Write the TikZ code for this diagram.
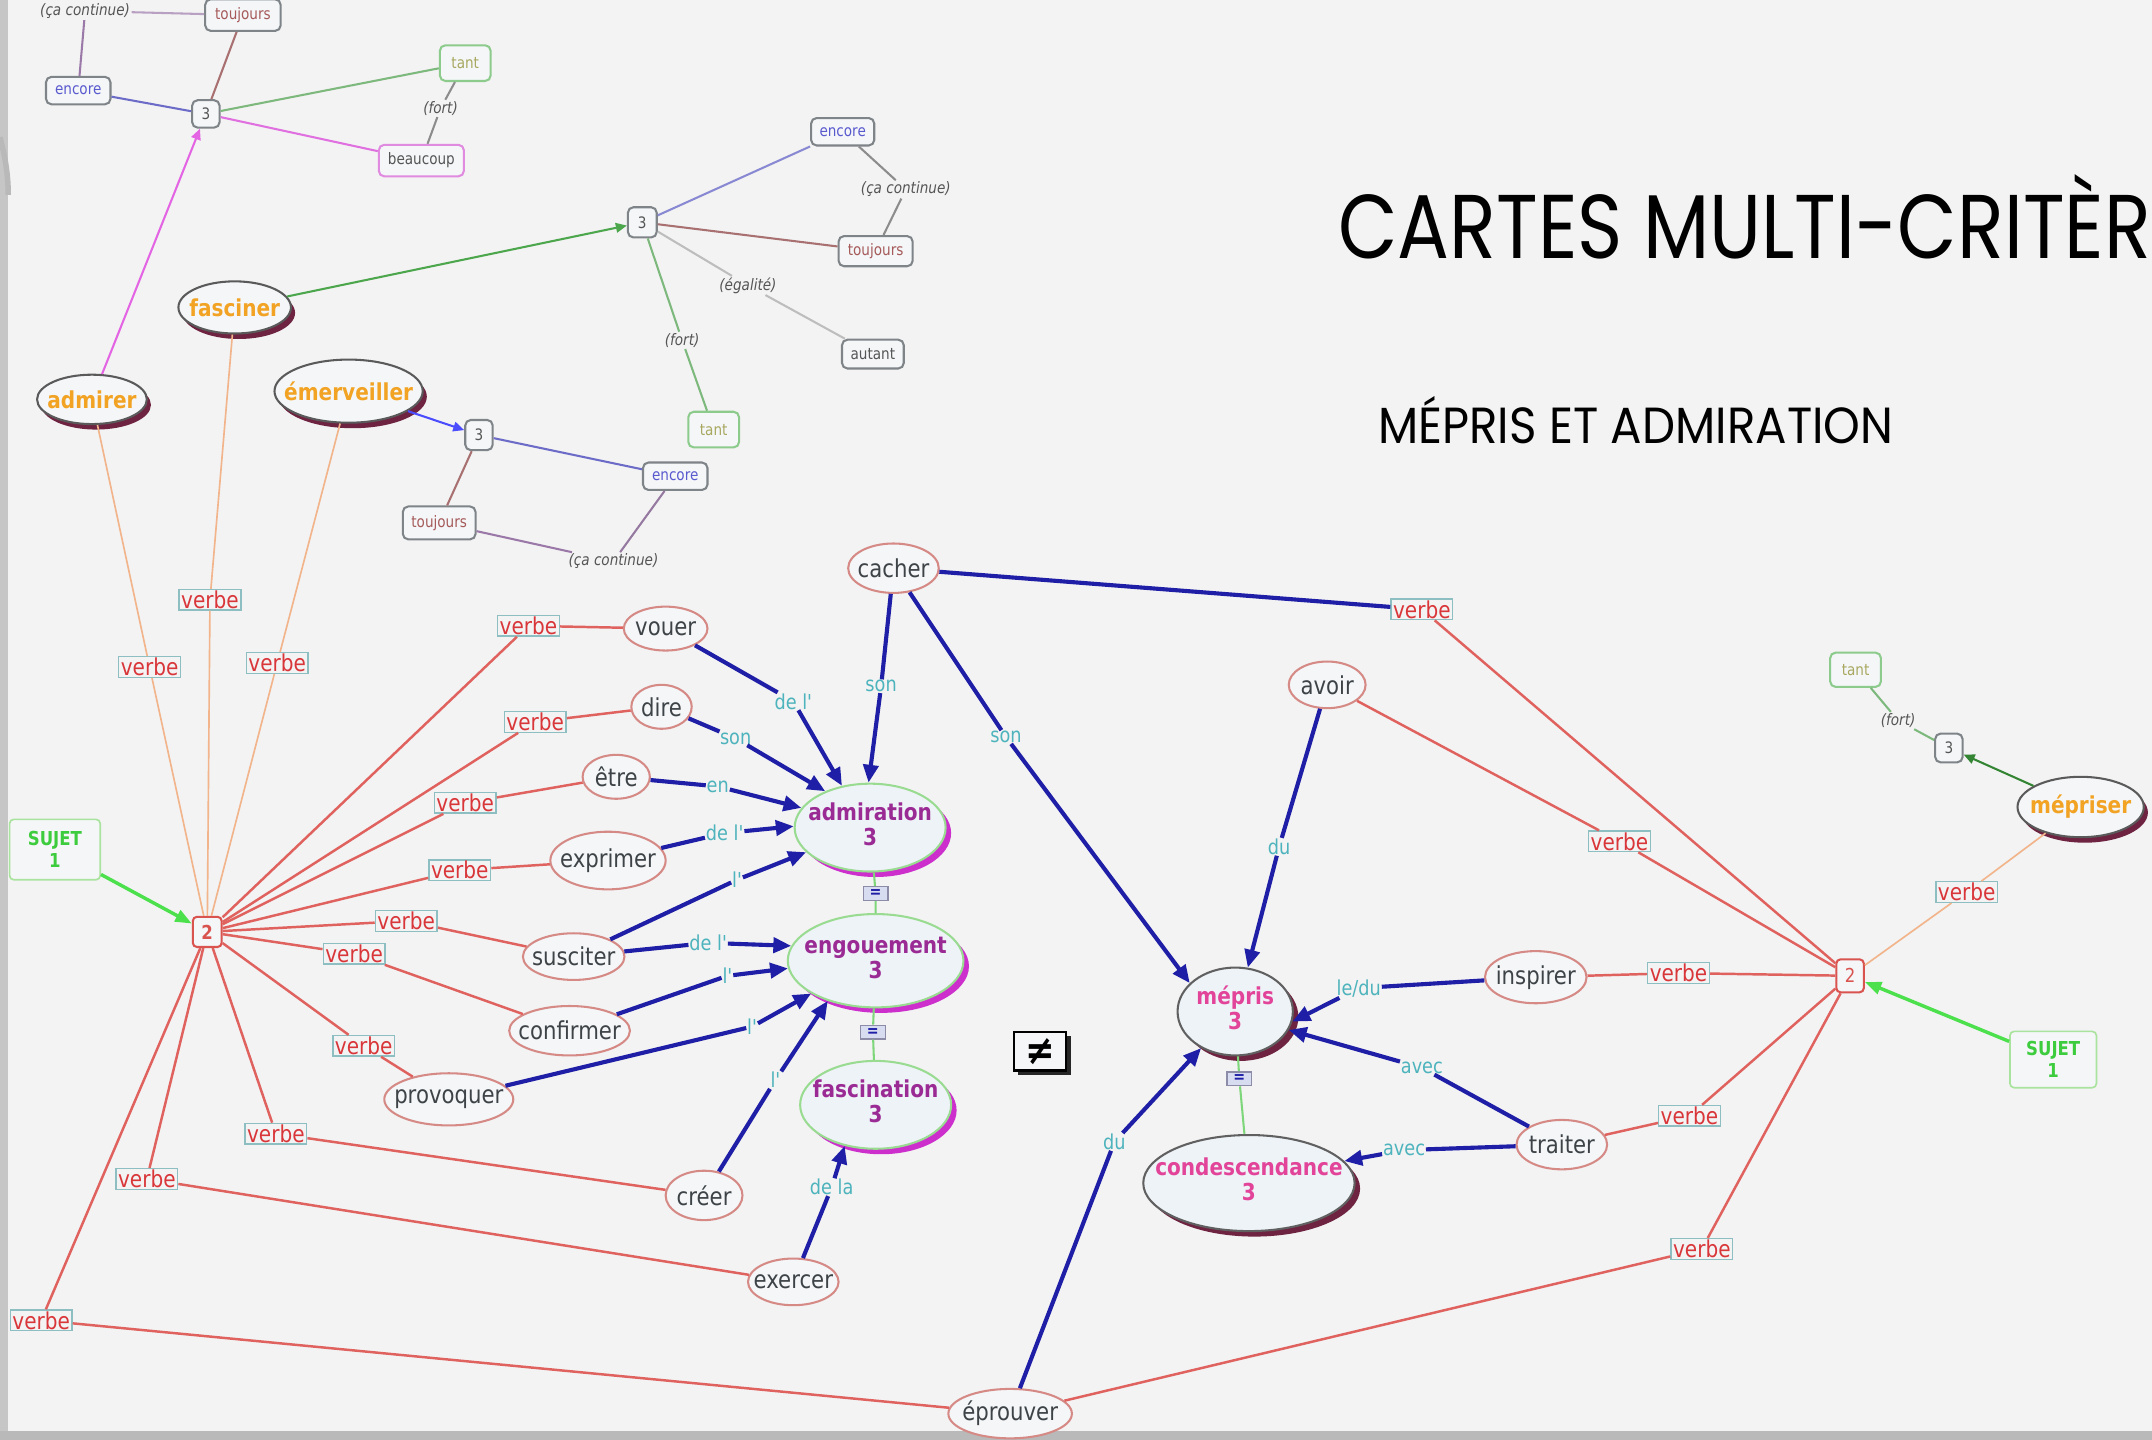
\documentclass[tikz,border=0pt]{standalone}
\usepackage{fontspec}
\usetikzlibrary{arrows.meta, positioning, shapes.geometric, shadows}

\newfontfamily\mapfont[FakeStretch=0.86]{DejaVu Sans}
\newfontfamily\titlefont[FakeStretch=0.85]{Poppins}
\newfontfamily\subtitlefont[FakeStretch=0.92]{Poppins}

\definecolor{bgcol}{HTML}{F3F3F3}
\definecolor{nodefill}{HTML}{F4F6F8}
\definecolor{cptfill}{HTML}{EEF3F7}
\definecolor{navy}{HTML}{1E1EA6}
\definecolor{linkteal}{HTML}{4DB3BC}
\definecolor{redl}{HTML}{E0625F}
\definecolor{vlabtext}{HTML}{D9363A}
\definecolor{vlabline}{HTML}{8DBFC2}
\definecolor{vrbline}{HTML}{D68A86}
\definecolor{vrbtext}{HTML}{3E4347}
\definecolor{oral}{HTML}{F2B48A}
\definecolor{oratext}{HTML}{F2A324}
\definecolor{oraborder}{HTML}{5A5A5A}
\definecolor{maroon}{HTML}{6E2340}
\definecolor{cptline}{HTML}{9ADB92}
\definecolor{magshadow}{HTML}{CC2FCC}
\definecolor{cpttext}{HTML}{9A2A94}
\definecolor{pinktext}{HTML}{E2449A}
\definecolor{hubred}{HTML}{D9534F}
\definecolor{sujline}{HTML}{A9E39E}
\definecolor{sujtext}{HTML}{3DCC3D}
\definecolor{sujarr}{HTML}{4CE04C}
\definecolor{smallline}{HTML}{7E8488}
\definecolor{enctext}{HTML}{5A5ACF}
\definecolor{toutext}{HTML}{A65A5A}
\definecolor{tanttext}{HTML}{A8A860}
\definecolor{tantline}{HTML}{8CCB8C}
\definecolor{beauline}{HTML}{E08AE0}
\definecolor{notetext}{HTML}{555555}
\definecolor{bluel}{HTML}{6C6CC8}
\definecolor{brownl}{HTML}{A87070}
\definecolor{greenl}{HTML}{7DB87D}
\definecolor{magl}{HTML}{E070E0}
\definecolor{grayl}{HTML}{8C8C8C}
\definecolor{lgrayl}{HTML}{BDBDBD}
\definecolor{purpl}{HTML}{9A78A8}
\definecolor{eqline}{HTML}{8C8CA8}
\definecolor{eqfill}{HTML}{D8DCF0}
\definecolor{grlink}{HTML}{7ED67A}

% zero-width text, so the ellipse size is set by hand
\newcommand{\zb}[1]{\makebox[0pt]{#1}}
\newcommand{\twoline}[2]{\makebox[0pt]{\begin{tabular}{@{}c@{}}#1\\#2\end{tabular}}}

\tikzset{
  vrb/.style={ellipse, draw=vrbline, line width=1.5, fill=nodefill, inner sep=0,
    minimum height=34, text=vrbtext, font=\mapfont\fontsize{18}{20}\selectfont},
  ora/.style={ellipse, draw=oraborder, line width=1.5, fill=nodefill, inner sep=0,
    text=oratext, font=\mapfont\bfseries\fontsize{17}{18}\selectfont,
    drop shadow={shadow xshift=3pt, shadow yshift=-4pt, fill=maroon, opacity=1}},
  cptbase/.style={ellipse, line width=1.5, fill=cptfill, inner sep=0,
    font=\mapfont\bfseries\fontsize{17}{18}\selectfont},
  cpt/.style={cptbase, draw=cptline, text=cpttext,
    drop shadow={shadow xshift=4pt, shadow yshift=-4pt, fill=magshadow, opacity=1}},
  cptdark/.style={cptbase, draw=gray!75!black, text=pinktext,
    drop shadow={shadow xshift=4pt, shadow yshift=-4pt, fill=maroon, opacity=1}},
  hub/.style={rectangle, rounded corners=3, draw=hubred, line width=1.5, fill=nodefill,
    minimum width=21, minimum height=22, inner sep=0, text=hubred,
    font=\mapfont\bfseries\fontsize{14}{15}\selectfont},
  sujet/.style={rectangle, rounded corners=3, draw=sujline, line width=1.2, fill=nodefill,
    inner sep=0, align=center, text=sujtext,
    font=\mapfont\bfseries\fontsize{14}{16}\selectfont},
  sujarrow/.style={-{Triangle[length=12pt,width=9pt]}, draw=sujarr, line width=2.5},
  vlab/.style={rectangle, draw=vlabline, line width=1, fill=bgcol, inner xsep=1.5,
    inner ysep=0, minimum height=15, text=vlabtext,
    font=\mapfont\fontsize{17}{18}\selectfont},
  redline/.style={draw=redl, line width=1.8},
  oraline/.style={draw=oral, line width=1.2},
  blink/.style={-{Triangle[length=13pt,width=11pt]}, draw=navy, line width=3},
  lnk/.style={inner sep=0.5, text=linkteal, font=\mapfont\fontsize{15}{16}\selectfont},
  small/.style={rectangle, rounded corners=4, draw=smallline, line width=1.5,
    fill=nodefill, inner xsep=4, inner ysep=2, minimum height=20,
    text=notetext, font=\mapfont\fontsize{11.5}{12}\selectfont},
  note/.style={inner sep=1, text=notetext, font=\mapfont\itshape\fontsize{11.5}{12}\selectfont},
  sarr/.style={-{Triangle[length=8pt,width=7pt]}, line width=1.5},
  eqbox/.style={rectangle, draw=eqline, line width=1, fill=eqfill, minimum width=18,
    minimum height=10, inner sep=0, text=navy,
    font=\mapfont\bfseries\fontsize{12}{10}\selectfont},
  grline/.style={draw=grlink, line width=1.5},
  neqbox/.style={rectangle, draw=black, line width=1.5, fill=nodefill,
    minimum width=38, minimum height=28, inner sep=0,
    font=\mapfont\bfseries\fontsize{30}{30}\selectfont,
    drop shadow={shadow xshift=3pt, shadow yshift=-3pt, fill=black!85, opacity=1}}
}

\begin{document}
\begin{tikzpicture}[x=1pt, y=-1pt]
  % Page and its edges
  \useasboundingbox (0,0) rectangle (1568,1049);
  \fill[bgcol] (0,0) rectangle (1568,1049);
  \fill[gray!45] (0,0) rectangle (6,1049);
  \fill[gray!55] (0,1043) rectangle (1568,1049);
  \draw[gray!55, line width=4] (0,100) .. controls (4,115) and (6,128) .. (6,142);
  \clip (0,0) rectangle (1568,1049);

  % Titles
  \node[anchor=base west, inner sep=0, font=\titlefont\fontsize{66}{66}\selectfont]
    (title) at (975,188) {CARTES MULTI-CRITÈRES};
  \node[anchor=base west, inner sep=0, font=\subtitlefont\fontsize{37}{37}\selectfont]
    (subtitle) at (1004,323) {MÉPRIS ET ADMIRATION};

  % Top left cluster
  \node[note] (cont1) at (62,8) {(ça continue)};
  \node[small, text=toutext, minimum width=55, minimum height=23] (tou1) at (177,11) {toujours};
  \node[small, text=enctext, minimum width=47] (enc1) at (57,66) {encore};
  \node[small, minimum width=20] (three1) at (150,83) {3};
  \node[small, draw=tantline, text=tanttext, minimum width=37, minimum height=26] (tant1) at (339,46) {tant};
  \node[note] (fort1) at (321,79) {(fort)};
  \node[small, draw=beauline, minimum width=62, minimum height=23] (beau1) at (307,117) {beaucoup};
  \draw[purpl!70, line width=1.5] (cont1) -- (tou1);
  \draw[purpl, line width=1.5] (cont1) -- (enc1);
  \draw[brownl, line width=1.5] (tou1) -- (three1);
  \draw[bluel, line width=1.5] (enc1) -- (three1);
  \draw[greenl, line width=1.5] (three1) -- (tant1);
  \draw[grayl, line width=1.5] (tant1) -- (fort1) -- (beau1);
  \draw[magl, line width=1.5] (three1) -- (beau1);

  % Second cluster
  \node[small, minimum width=21, minimum height=22] (three2) at (468,162) {3};
  \node[small, text=enctext, minimum width=46] (enc2) at (614,96) {encore};
  \node[note] (cont2) at (660,138) {(ça continue)};
  \node[small, text=toutext, minimum width=54, minimum height=22] (tou2) at (638,183) {toujours};
  \node[note] (egal2) at (545,208) {(égalité)};
  \node[small, minimum width=45, minimum height=21] (aut2) at (636,258) {autant};
  \node[note] (fort2) at (497,248) {(fort)};
  \node[small, draw=tantline, text=tanttext, minimum width=37, minimum height=26] (tant2) at (520,313) {tant};
  \draw[bluel!80, line width=1.5] (three2) -- (enc2);
  \draw[grayl, line width=1.5] (enc2) -- (cont2) -- (tou2);
  \draw[brownl, line width=1.5] (three2) -- (tou2);
  \draw[lgrayl, line width=1.5] (three2) -- (egal2) -- (aut2);
  \draw[greenl, line width=1.5] (three2) -- (fort2) -- (tant2);

  % Third cluster
  \node[small, minimum width=20, minimum height=22] (three3) at (349,317) {3};
  \node[small, text=enctext, minimum width=47] (enc3) at (492,347) {encore};
  \node[small, text=toutext, minimum width=53, minimum height=24] (tou3) at (320,381) {toujours};
  \node[note] (cont3) at (447,409) {(ça continue)};
  \draw[bluel, line width=1.5] (three3) -- (enc3);
  \draw[brownl, line width=1.5] (three3) -- (tou3);
  \draw[purpl, line width=1.5] (tou3) -- (cont3);
  \draw[purpl!80!gray, line width=1.5] (cont3) -- (enc3);

  % Right cluster
  \node[small, draw=tantline, text=tanttext, minimum width=37, minimum height=25] (tant4) at (1352,488) {tant};
  \node[note] (fort4) at (1383,525) {(fort)};
  \node[small, minimum width=20, minimum height=21] (three4) at (1420,545) {3};
  \draw[greenl, line width=1.5] (tant4) -- (fort4) -- (three4);

  % Orange verbs
  \node[ora, minimum width=80, minimum height=36] (admirer) at (67,291) {\zb{admirer}};
  \node[ora, minimum width=82, minimum height=38] (fasciner) at (171,224) {\zb{fasciner}};
  \node[ora, minimum width=108, minimum height=46] (emerv) at (254,285) {\zb{émerveiller}};
  \node[ora, minimum width=92, minimum height=44] (mepriser) at (1516,588) {\zb{mépriser}};
  \draw[sarr, draw=magl!90!magenta] (admirer) -- (three1);
  \draw[sarr, draw=green!50!black!70] (fasciner) -- (three2);
  \draw[sarr, draw=blue!70] (emerv) -- (three3);
  \draw[sarr, draw=green!40!black!80] (mepriser) -- (three4);

  % Concepts
  \node[cpt, minimum width=110, minimum height=64] (admiration) at (634,603) {\twoline{admiration}{3}};
  \node[cpt, minimum width=128, minimum height=68] (engouement) at (638,700) {\twoline{engouement}{3}};
  \node[cpt, minimum width=110, minimum height=64] (fascination) at (638,805) {\twoline{fascination}{3}};
  \node[cptdark, minimum width=84, minimum height=64] (mepris) at (900,737) {\twoline{mépris}{3}};
  \node[cptdark, minimum width=154, minimum height=70] (condesc) at (910,862) {\twoline{condescendance}{3}};
  \node[eqbox] (eqA) at (638,651) {=};
  \node[eqbox] (eqB) at (636,752) {=};
  \node[eqbox] (eqC) at (903,786) {=};
  \draw[grline] (admiration) -- (eqA) -- (engouement);
  \draw[grline] (engouement) -- (eqB) -- (fascination);
  \draw[grline] (mepris) -- (eqC) -- (condesc);
  \node[neqbox] (neq) at (758,766) {≠};

  % Plain verbs
  \node[vrb, minimum width=66, minimum height=36] (cacher) at (651,414) {\zb{cacher}};
  \node[vrb, minimum width=61, minimum height=32] (vouer) at (485,458) {\zb{vouer}};
  \node[vrb, minimum width=44, minimum height=32] (dire) at (482,515) {\zb{dire}};
  \node[vrb, minimum width=49, minimum height=32] (etre) at (449,566) {\zb{être}};
  \node[vrb, minimum width=84, minimum height=42] (exprimer) at (443,627) {\zb{exprimer}};
  \node[vrb, minimum width=74] (susciter) at (418,697) {\zb{susciter}};
  \node[vrb, minimum width=88, minimum height=36] (confirmer) at (415,751) {\zb{confirmer}};
  \node[vrb, minimum width=94, minimum height=38] (provoquer) at (327,801) {\zb{provoquer}};
  \node[vrb, minimum width=56, minimum height=36] (creer) at (513,871) {\zb{créer}};
  \node[vrb, minimum width=66] (exercer) at (578,934) {\zb{exercer}};
  \node[vrb, minimum width=90, minimum height=36] (eprouver) at (736,1030) {\zb{éprouver}};
  \node[vrb, minimum width=56] (avoir) at (967,499) {\zb{avoir}};
  \node[vrb, minimum width=74, minimum height=38] (inspirer) at (1119,712) {\zb{inspirer}};
  \node[vrb, minimum width=66, minimum height=36] (traiter) at (1138,834) {\zb{traiter}};

  % Hubs and subjects
  \node[hub] (hubL) at (151,679) {2};
  \node[hub, font=\mapfont\fontsize{14}{15}\selectfont, minimum width=20, minimum height=24] (hubR) at (1348,711) {2};
  \node[sujet, minimum width=66, minimum height=44] (sujL) at (40,619) {SUJET\\1};
  \node[sujet, minimum width=63, minimum height=41] (sujR) at (1496,772) {SUJET\\1};
  \draw[sujarrow] (sujL) -- (hubL);
  \draw[sujarrow] (sujR) -- (hubR);

  % Verb labels, left hub
  \node[vlab] (vbFas) at (153,437) {verbe};
  \node[vlab] (vbAdm) at (109,486) {verbe};
  \node[vlab] (vbEme) at (202,483) {verbe};
  \node[vlab] (vbVou) at (385,456) {verbe};
  \node[vlab] (vbDir) at (390,526) {verbe};
  \node[vlab] (vbEtr) at (339,585) {verbe};
  \node[vlab] (vbExp) at (335,634) {verbe};
  \node[vlab] (vbSus) at (296,671) {verbe};
  \node[vlab] (vbCon) at (258,695) {verbe};
  \node[vlab] (vbPro) at (265,762) {verbe};
  \node[vlab] (vbCre) at (201,826) {verbe};
  \node[vlab] (vbExe) at (107,859) {verbe};
  \node[vlab] (vbEprL) at (30,962) {verbe};

  % Verb labels, right hub
  \node[vlab] (vbCac) at (1036,444) {verbe};
  \node[vlab] (vbAvo) at (1180,613) {verbe};
  \node[vlab] (vbMep) at (1433,650) {verbe};
  \node[vlab] (vbIns) at (1223,709) {verbe};
  \node[vlab] (vbTra) at (1231,813) {verbe};
  \node[vlab] (vbEprR) at (1240,910) {verbe};

  % Lines from the left hub
  \draw[oraline] (hubL) -- (vbFas) -- (fasciner);
  \draw[oraline] (hubL) -- (vbAdm) -- (admirer);
  \draw[oraline] (hubL) -- (vbEme) -- (emerv);
  \draw[redline] (hubL) -- (vbVou) -- (vouer);
  \draw[redline] (hubL) -- (vbDir) -- (dire);
  \draw[redline] (hubL) -- (vbEtr) -- (etre);
  \draw[redline] (hubL) -- (vbExp) -- (exprimer);
  \draw[redline] (hubL) -- (vbSus) -- (susciter);
  \draw[redline] (hubL) -- (vbCon) -- (confirmer);
  \draw[redline] (hubL) -- (vbPro) -- (provoquer);
  \draw[redline] (hubL) -- (vbCre) -- (creer);
  \draw[redline] (hubL) -- (vbExe) -- (exercer);
  \draw[redline] (hubL) -- (vbEprL) -- (eprouver);

  % Lines from the right hub
  \draw[navy, line width=3] (cacher) -- (vbCac);
  \draw[redline] (vbCac) -- (hubR);
  \draw[redline] (avoir) -- (vbAvo) -- (hubR);
  \draw[oraline] (mepriser) -- (vbMep) -- (hubR);
  \draw[redline] (inspirer) -- (vbIns) -- (hubR);
  \draw[redline] (traiter) -- (vbTra) -- (hubR);
  \draw[redline] (eprouver) -- (vbEprR) -- (hubR);

  % Link words
  \node[lnk] (lkVou) at (578,511) {de l'};
  \node[lnk] (lkDir) at (536,538) {son};
  \node[lnk] (lkEtr) at (523,573) {en};
  \node[lnk] (lkExp) at (528,607) {de l'};
  \node[lnk] (lkSusA) at (537,641) {l'};
  \node[lnk] (lkSusE) at (516,687) {de l'};
  \node[lnk] (lkCon) at (530,711) {l'};
  \node[lnk] (lkPro) at (548,748) {l'};
  \node[lnk] (lkCre) at (565,787) {l'};
  \node[lnk] (lkExe) at (606,865) {de la};
  \node[lnk] (lkCacA) at (642,500) {son};
  \node[lnk] (lkCacM) at (733,537) {son};
  \node[lnk] (lkAvo) at (932,617) {du};
  \node[lnk] (lkIns) at (990,720) {le/du};
  \node[lnk] (lkTraM) at (1036,778) {avec};
  \node[lnk] (lkTraC) at (1023,838) {avec};
  \node[lnk] (lkEpr) at (812,832) {du};

  % Links to the concepts
  \draw[blink] (vouer) -- (lkVou) -- (admiration.124);
  \draw[blink] (dire) -- (lkDir) -- (admiration.141);
  \draw[blink] (etre) -- (lkEtr) -- (admiration.164);
  \draw[blink] (exprimer) -- (lkExp) -- (admiration.179);
  \draw[blink] (susciter) -- (lkSusA) -- (admiration.201);
  \draw[blink] (susciter) -- (lkSusE) -- (engouement.170);
  \draw[blink] (confirmer) -- (lkCon) -- (engouement.185);
  \draw[blink] (provoquer) -- (lkPro) -- (engouement.207);
  \draw[blink] (creer) -- (lkCre) -- (engouement.220);
  \draw[blink] (exercer) -- (lkExe) -- (fascination.233);
  \draw[blink] (cacher) -- (lkCacA) -- (admiration.92);
  \draw[blink] (cacher) -- (lkCacM) -- (mepris.148);
  \draw[blink] (avoir) -- (lkAvo) -- (mepris.74);
  \draw[blink] (inspirer) -- (lkIns) -- (mepris.350);
  \draw[blink] (traiter) -- (lkTraM) -- (mepris.341);
  \draw[blink] (traiter) -- (lkTraC) -- (condesc.13);
  \draw[blink] (eprouver) -- (lkEpr) -- (mepris.227);
\end{tikzpicture}
\end{document}
